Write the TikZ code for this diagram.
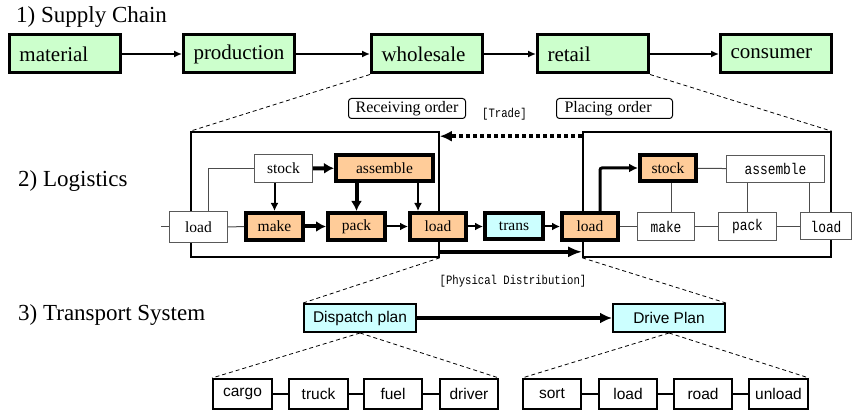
\documentclass[tikz,border=0pt]{standalone}
\usepackage{fontspec}
\setmainfont{Liberation Serif}
\setsansfont{Liberation Sans}
\setmonofont{Liberation Mono}
\newfontfamily\narrowmono{Liberation Mono}[FakeStretch=0.83]
\usetikzlibrary{arrows.meta,calc}
\definecolor{scgreen}{HTML}{CCFFCC}
\definecolor{peach}{HTML}{FFCC99}
\definecolor{aqua}{HTML}{CCFFFF}
\begin{document}
\begin{tikzpicture}[x=1pt,y=-1pt,
  title/.style={anchor=west,inner sep=0pt,font=\fontsize{23}{26}\selectfont},
  chain/.style={draw,line width=3pt,fill=scgreen,text width=91pt,align=left,
    inner xsep=10pt,inner ysep=0pt,minimum height=38pt,font=\fontsize{21}{24}\selectfont},
  wnode/.style={draw=black!65,line width=1pt,fill=white,inner sep=0pt,font=\fontsize{15.5}{18}\selectfont},
  onode/.style={draw,line width=4pt,fill=peach,inner sep=0pt,font=\fontsize{15.5}{18}\selectfont},
  cnode/.style={draw,line width=4pt,fill=aqua,inner sep=0pt,font=\fontsize{15.5}{18}\selectfont},
  mnode/.style={draw=black!65,line width=1pt,fill=white,inner sep=0pt,font=\narrowmono\fontsize{15.5}{18}\selectfont},
  bigbox/.style={draw,line width=1.6pt,inner sep=0pt},
  orderbox/.style={draw,line width=1pt,rounded corners=3pt,inner sep=0pt,font=\fontsize{16}{18}\selectfont},
  tag/.style={inner sep=0pt,font=\narrowmono\fontsize{12.8}{14}\selectfont},
  plan/.style={draw,line width=2pt,fill=aqua,inner sep=0pt,minimum width=112pt,minimum height=28pt,font=\sffamily\fontsize{15.5}{18}\selectfont},
  item/.style={draw,line width=2pt,inner sep=0pt,minimum width=58pt,minimum height=30pt,font=\sffamily\fontsize{15.5}{18}\selectfont},
  flow/.style={line width=1.5pt,-{Latex[length=8pt,width=7pt]}},
  heavy/.style={line width=4pt,-{Latex[length=10pt,width=11pt]}},
  medium/.style={line width=2pt,-{Latex[length=8pt,width=8pt]}},
  link/.style={line width=1pt,draw=black!70},
  zoomline/.style={line width=0.8pt,dash pattern=on 4pt off 3pt}]
\useasboundingbox (0,0) rectangle (853,411);

% ---- 1) Supply chain ----
\node[title] (t1) at (16,17) {1) Supply Chain};
\node[chain] (material)   at (65,54)  {material};
\node[chain] (production) at (239,54) {production};
\node[chain] (wholesale)  at (427,54) {wholesale};
\node[chain] (retail)     at (593,54) {retail};
\node[chain] (consumer)   at (776,54) {consumer};
\draw[flow] (material) -- (production);
\draw[flow] (production) -- (wholesale);
\draw[flow] (wholesale) -- (retail);
\draw[flow] (retail) -- (consumer);

% ---- 2) Logistics ----
\node[title] (t2) at (18,181) {2) Logistics};
\node[bigbox,minimum width=248pt,minimum height=125pt] (lbox) at (315,194.5) {};
\node[bigbox,minimum width=248pt,minimum height=125pt] (rbox) at (707,194.5) {};
\draw[zoomline] (wholesale.south west) -- (lbox.north west);
\draw[zoomline] (retail.south east) -- (rbox.north east);

\node[orderbox,minimum width=117pt,minimum height=20pt] (recv) at (407,108.5) {Receiving order};
\node[orderbox,text width=100pt,align=left,inner xsep=8pt,minimum height=20pt] (place) at (614.5,108.5) {Placing order};
\node[tag] (trade) at (504.5,114) {[Trade]};

% order flow (dotted) and goods flow (solid)
\draw[line width=4pt,dash pattern=on 4pt off 3pt,-{Latex[length=12pt,width=11pt]}]
  ([yshift=-5pt]rbox.north west) -- ([yshift=-5pt]lbox.north east);
\draw[line width=4pt,-{Latex[length=14pt,width=11pt]}]
  ([yshift=6pt]lbox.south east) -- ([yshift=6pt]rbox.south west);

% left company
\node[wnode,minimum width=58pt,minimum height=31pt] (wload) at (198.5,227) {load};
\node[wnode,minimum width=58pt,minimum height=28pt] (stockL) at (283.5,168.5) {stock};
\node[onode,minimum width=97pt,minimum height=26pt] (assembleL) at (384.5,168) {assemble};
\node[onode,minimum width=57pt,minimum height=27pt] (makeL) at (274.5,226.5) {make};
\node[onode,minimum width=57pt,minimum height=27pt] (packL) at (356.5,226.5) {pack};
\node[onode,minimum width=56pt,minimum height=27pt] (loadL) at (438,226.5) {load};
\node[cnode,minimum width=58pt,minimum height=26pt] (trans) at (514,226.5) {trans};

\coordinate (inL) at (161,227);
\draw[link] (inL) -- (wload.west);
\draw[link] (wload) -- (makeL);
\draw[link] ([xshift=9.5pt]wload.north) |- (stockL.west);
\draw[heavy] (stockL) -- (assembleL);
\draw[medium] (stockL.south -| makeL.north) -- (makeL.north);
\draw[heavy] (makeL) -- (packL);
\draw[heavy] (assembleL.south -| packL.north) -- (packL.north);
\draw[medium] ([xshift=-20pt]loadL.north |- assembleL.south) -- ([xshift=-20pt]loadL.north);
\draw[medium] (packL) -- (loadL);
\draw[medium] (loadL) -- (trans);

% right company
\node[onode,minimum width=56pt,minimum height=27pt] (loadRo) at (590,226.5) {load};
\node[onode,minimum width=56pt,minimum height=26pt] (stockR) at (668,168) {stock};
\node[mnode,minimum width=98pt,minimum height=27pt] (assembleR) at (775.5,169) {assemble};
\node[mnode,minimum width=57pt,minimum height=28pt] (makeR) at (666,226.5) {make};
\node[mnode,minimum width=58pt,minimum height=28pt] (packR) at (747.5,226.5) {pack};
\node[mnode,minimum width=51pt,minimum height=27pt] (loadR) at (826,226.5) {load};

\draw[medium] (trans) -- (loadRo);
\draw[line width=3pt,rounded corners=2pt,-{Latex[length=9pt,width=9pt]}]
  ([xshift=10pt]loadRo.north) |- (stockR.west);
\draw[link] (loadRo) -- (makeR);
\draw[link] (makeR) -- (packR);
\draw[link] (packR) -- (loadR);
\draw[link] (stockR) -- (assembleR);
\draw[link] ([xshift=3pt]stockR.south) -- ([xshift=3pt]stockR.south |- makeR.north);
\draw[link] (assembleR.south -| packR.north) -- (packR.north);
\draw[link] ([xshift=-17pt]loadR.north |- assembleR.south) -- ([xshift=-17pt]loadR.north);

% ---- 3) Transport system ----
\node[title] (t3) at (18,315) {3) Transport System};
\node[tag] (phys) at (513,281) {[Physical Distribution]};
\node[plan] (dispatch) at (360,318) {Dispatch plan};
\node[plan] (drive) at (669,318) {Drive Plan};
\draw[zoomline] (lbox.south east) -- (dispatch.north west);
\draw[zoomline] (rbox.south west) -- (drive.north east);
\draw[line width=4pt,-{Latex[length=12pt,width=11pt]}] (dispatch) -- (drive);

\node[item,minimum width=59pt] (cargo) at (242.5,394) {cargo};
\node[item,minimum width=59pt] (truck) at (318.5,394) {truck};
\node[item] (fuel)   at (393,394)   {fuel};
\node[item] (driver) at (469,394)   {driver};
\node[item] (sort)   at (552,394)   {sort};
\node[item] (loadT)  at (628,394)   {load};
\node[item] (road)   at (703,394)   {road};
\node[item,minimum width=59pt] (unload) at (778.5,394) {unload};
\foreach \a/\b in {cargo/truck,truck/fuel,fuel/driver,sort/loadT,loadT/road,road/unload}
  \draw[line width=1.5pt] (\a) -- (\b);
\draw[zoomline] (dispatch.south) -- (cargo.north west);
\draw[zoomline] (dispatch.south) -- (driver.north east);
\draw[zoomline] (drive.south) -- (sort.north west);
\draw[zoomline] (drive.south) -- (unload.north east);
\end{tikzpicture}
\end{document}
